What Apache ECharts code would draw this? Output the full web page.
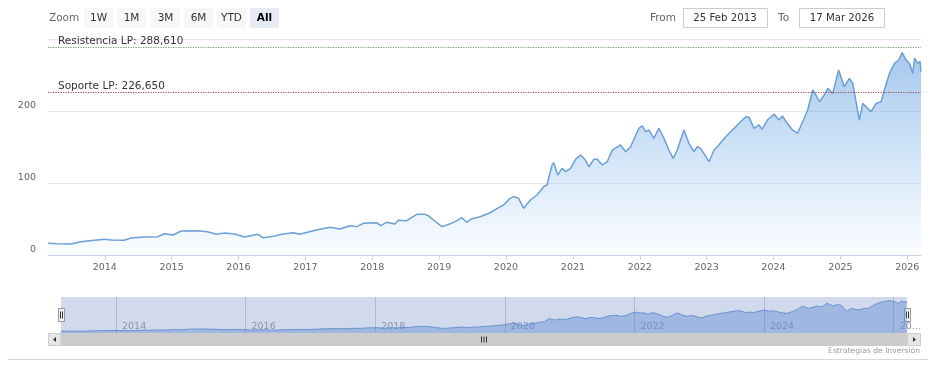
<!DOCTYPE html>
<html>
<head>
<meta charset="utf-8">
<script src="https://cdn.jsdelivr.net/npm/echarts@6/dist/echarts.min.js"></script>
<style>
html,body{margin:0;padding:0;background:#fff;}
#chart{width:941px;height:379px;}
</style>
</head>
<body>
<div id="chart"></div>
<script>
const dates = ['2013-02-25','2013-04-17','2013-06-30','2013-08-24','2013-11-05','2014-01-01','2014-02-05','2014-04-17','2014-05-24','2014-08-05','2014-10-18','2014-11-24','2015-01-08','2015-02-23','2015-05-22','2015-07-16','2015-09-02','2015-10-18','2015-12-11','2016-02-04','2016-04-16','2016-05-14','2016-06-25','2016-09-01','2016-10-26','2016-12-01','2017-02-13','2017-05-15','2017-07-08','2017-09-01','2017-10-08','2017-11-13','2018-01-25','2018-02-16','2018-03-20','2018-05-05','2018-05-23','2018-07-08','2018-09-01','2018-10-16','2018-11-03','2018-12-01','2019-01-16','2019-02-13','2019-03-30','2019-05-05','2019-06-01','2019-06-29','2019-08-13','2019-10-07','2019-11-22','2019-12-20','2020-01-24','2020-02-12','2020-03-10','2020-04-07','2020-05-14','2020-06-19','2020-07-25','2020-08-12','2020-09-09','2020-09-18','2020-10-10','2020-11-03','2020-11-22','2020-12-19','2021-01-15','2021-02-12','2021-03-10','2021-03-29','2021-04-25','2021-05-14','2021-06-10','2021-07-07','2021-08-04','2021-09-18','2021-10-16','2021-11-12','2021-12-27','2022-01-15','2022-02-02','2022-02-20','2022-03-19','2022-04-15','2022-05-13','2022-06-09','2022-07-03','2022-07-25','2022-08-30','2022-09-27','2022-10-24','2022-11-12','2022-11-29','2022-12-17','2023-01-14','2023-02-11','2023-03-09','2023-04-15','2023-06-09','2023-08-03','2023-08-21','2023-09-17','2023-10-14','2023-11-01','2023-11-29','2024-01-04','2024-02-01','2024-02-19','2024-03-17','2024-04-14','2024-05-12','2024-06-17','2024-07-06','2024-08-03','2024-08-20','2024-09-08','2024-10-05','2024-10-24','2024-11-20','2024-12-22','2025-01-22','2025-02-19','2025-03-09','2025-03-27','2025-04-14','2025-05-03','2025-05-21','2025-06-17','2025-07-15','2025-08-11','2025-08-29','2025-09-26','2025-10-23','2025-11-16','2025-12-04','2025-12-26','2026-01-13','2026-01-31','2026-02-10','2026-02-28','2026-03-12','2026-03-17'];
const prices = [16.2,15.6,15.3,18.5,20.4,21.8,21,20.4,23.6,25,25.5,29.6,27.8,33.3,33.8,32.4,28.7,30.5,29.2,25,28.7,24,25.2,29.2,31,28.7,33.8,38.4,36,40.7,39.4,44,44.9,40.7,45.4,43,48.1,47.7,56.5,56.5,54.6,48.6,39.4,41.7,46.3,51.8,45.4,50.4,53.2,58.7,65.7,69.4,78.7,81,78.7,64.8,76.4,83.3,94.9,97.2,125,128.2,111.1,120.4,115.7,120.4,132.9,138.9,131.9,122.6,132.9,132.9,125,129.6,145.8,152.8,143.5,150.4,176,179.2,171.3,173.6,162,176,162,145.8,134.3,145.8,173.6,155.1,143.5,150.4,148.2,141.2,129.6,145.8,152.8,164.3,178.2,192.1,191.2,176,180.6,174.5,187.5,195.8,187.5,193,182.9,173.6,169,189.9,201.4,229.2,222.2,212.9,222.2,231.5,224.5,256.9,233.8,245.4,238.5,212.9,187.5,210.6,206,199,210.6,212.9,229.2,252.4,266.2,270.8,281,270.8,266.2,252.4,273.2,266.2,268.5,254.6];
const yTicks = [0, 100, 200, 300];
const mainYears = [2014,2015,2016,2017,2018,2019,2020,2021,2022,2023,2024,2025,2026];
const navYears = [2014,2016,2018,2020,2022,2024,2026];
const resistance = {label: 'Resistencia LP: 288,610', value: 288.61};
const support = {label: 'Soporte LP: 226,650', value: 226.65};
const rangeButtons = ['1W','1M','3M','6M','YTD','All'];
const fromDate = '25 Feb 2013';
const toDate = '17 Mar 2026';
const credit = 'Estrategias de Inversión';

const FONT = 'DejaVu Sans';
const ts = s => { const p = s.split('-').map(Number); return new Date(p[0], p[1] - 1, p[2]).getTime(); };
const yearTs = y => new Date(y, 0, 1).getTime();
const seriesData = dates.map((d, i) => [ts(d), prices[i]]);
const startTs = ts(dates[0]), endTs = ts(dates[dates.length - 1]);

const chart = echarts.init(document.getElementById('chart'), null, {renderer: 'canvas'});

const graphics = [];
graphics.push({type:'text', x:49, y:18, style:{text:'Zoom', fill:'#666', font:'10.5px "' + FONT + '"', verticalAlign:'middle'}});
const btnX = [84, 117, 151, 184, 217, 250];
rangeButtons.forEach((b, i) => {
  const sel = b === 'All';
  graphics.push({type:'rect', shape:{x:btnX[i], y:8, width:29, height:20, r:2}, style:{fill: sel ? '#e6ebf5' : '#f7f7f7'}});
  graphics.push({type:'text', x:btnX[i] + 14.5, y:18, style:{text:b, fill: sel ? '#000' : '#333', font:(sel ? 'bold ' : '') + '10.5px "' + FONT + '"', align:'center', verticalAlign:'middle'}});
});
graphics.push({type:'text', x:650, y:18, style:{text:'From', fill:'#666', font:'10.5px "' + FONT + '"', verticalAlign:'middle'}});
graphics.push({type:'rect', shape:{x:683.5, y:8.5, width:84, height:19}, style:{fill:'#fff', stroke:'#ccc', lineWidth:1}});
graphics.push({type:'text', x:725, y:18, style:{text:fromDate, fill:'#333', font:'10.2px "' + FONT + '"', align:'center', verticalAlign:'middle'}});
graphics.push({type:'text', x:778, y:18, style:{text:'To', fill:'#666', font:'10.5px "' + FONT + '"', verticalAlign:'middle'}});
graphics.push({type:'rect', shape:{x:799.5, y:8.5, width:85, height:19}, style:{fill:'#fff', stroke:'#ccc', lineWidth:1}});
graphics.push({type:'text', x:842, y:18, style:{text:toDate, fill:'#333', font:'10.2px "' + FONT + '"', align:'center', verticalAlign:'middle'}});

graphics.push({type:'rect', shape:{x:48, y:333, width:873, height:13}, style:{fill:'#f2f2f2'}});
graphics.push({type:'rect', shape:{x:61, y:333, width:846, height:13}, style:{fill:'#cccccc'}});
graphics.push({type:'rect', shape:{x:48.5, y:333.5, width:12.5, height:12}, style:{fill:'#e6e6e6', stroke:'#cccccc'}});
graphics.push({type:'rect', shape:{x:907.5, y:333.5, width:13, height:12}, style:{fill:'#e6e6e6', stroke:'#cccccc'}});
graphics.push({type:'polygon', shape:{points:[[56,337],[56,342],[53,339.5]]}, style:{fill:'#333'}});
graphics.push({type:'polygon', shape:{points:[[913,337],[913,342],[916,339.5]]}, style:{fill:'#333'}});
[481.5, 484, 486.5].forEach(x => graphics.push({type:'line', shape:{x1:x, y1:336.5, x2:x, y2:342.5}, style:{stroke:'#333', lineWidth:1}}));
[[58.5, 308.5],[904.5, 308.5]].forEach(([x, y]) => {
  graphics.push({type:'rect', shape:{x:x, y:y, width:6, height:13}, style:{fill:'#f2f2f2', stroke:'#999', lineWidth:1}});
  graphics.push({type:'line', shape:{x1:x+2, y1:y+3, x2:x+2, y2:y+10}, style:{stroke:'#333', lineWidth:1}});
  graphics.push({type:'line', shape:{x1:x+4, y1:y+3, x2:x+4, y2:y+10}, style:{stroke:'#333', lineWidth:1}});
});
graphics.push({type:'text', x:920, y:351, style:{text:credit, fill:'#999', font:'7.6px "' + FONT + '"', align:'right', verticalAlign:'middle'}});
graphics.push({type:'line', shape:{x1:8, y1:359.5, x2:928, y2:359.5}, style:{stroke:'#d9d9d9', lineWidth:1}});

const option = {
  animation: false,
  backgroundColor: '#fff',
  textStyle: {fontFamily: FONT},
  grid: [
    {left:48, right:20, top:39, bottom:124},
    {left:61, right:34, top:297, height:36, show:true, backgroundColor:'rgba(102,133,194,0.3)', borderWidth:0}
  ],
  xAxis: [
    {type:'value', gridIndex:0, min:startTs, max:endTs, scale:true,
     axisLine:{show:true, lineStyle:{color:'#ccd6eb', width:1}},
     axisTick:{show:true, length:5, lineStyle:{color:'#ccd6eb'}, customValues: mainYears.map(yearTs)},
     axisLabel:{customValues: mainYears.map(yearTs), formatter: v => String(new Date(v).getFullYear()), color:'#666', fontSize:9.5, fontFamily:FONT, margin:8, hideOverlap:false, showMinLabel:true, showMaxLabel:true},
     splitLine:{show:false}},
    {type:'value', gridIndex:1, min:startTs, max:endTs, scale:true,
     axisLine:{show:false}, axisTick:{show:false},
     axisLabel:{inside:true, customValues: navYears.map(yearTs), formatter: v => { const y = new Date(v).getFullYear(); return y === 2026 ? '20…' : String(y); }, color:'#8a93a8', fontSize:9.5, fontFamily:FONT, align:'left', padding:[0,0,0,6], margin:1, hideOverlap:false, showMinLabel:true, showMaxLabel:true},
     splitLine:{show:false}}
  ],
  yAxis: [
    {type:'value', gridIndex:0, min:0, max:300, interval:100,
     axisLine:{show:false}, axisTick:{show:false},
     axisLabel:{color:'#666', fontSize:9.5, fontFamily:FONT, margin:12, verticalAlign:'bottom', formatter: v => v === 300 ? '' : String(v)},
     splitLine:{show:true, lineStyle:{color:'#e6e6e6', width:1}}},
    {type:'value', gridIndex:1, min:0, max:310, show:false, splitLine:{show:false}}
  ],
  series: [
    {type:'line', xAxisIndex:0, yAxisIndex:0, data: seriesData, showSymbol:false, symbol:'none',
     lineStyle:{color:'#6c9fd6', width:1.5},
     areaStyle:{color: new echarts.graphic.LinearGradient(0,0,0,1,[{offset:0,color:'rgba(120,172,230,0.95)'},{offset:1,color:'rgba(124,181,236,0.04)'}])},
     markLine:{silent:true, symbol:['none','none'],
       data:[
         {yAxis: resistance.value, lineStyle:{color:'#6f9f68', type:[1.2,1.3], width:1.2}, label:{formatter: resistance.label}},
         {yAxis: support.value, lineStyle:{color:'#a8404e', type:[1.2,1.3], width:1.2}, label:{formatter: support.label}}
       ],
       label:{show:true, position:'insideStartTop', color:'#333', fontSize:10.5, fontFamily:FONT, distance:[10,0]}
     }},
    {type:'line', xAxisIndex:1, yAxisIndex:1, data: seriesData, showSymbol:false, symbol:'none',
     lineStyle:{color:'#6b92d0', width:1},
     areaStyle:{color:'rgba(95,138,210,0.62)'},
     markLine:{silent:true, symbol:['none','none'], label:{show:false},
       lineStyle:{color:'rgba(110,120,150,0.35)', type:'solid', width:1},
       data: navYears.map(y => ({xAxis: yearTs(y)}))}}
  ],
  graphic: graphics
};
chart.setOption(option);
</script>
</body>
</html>
